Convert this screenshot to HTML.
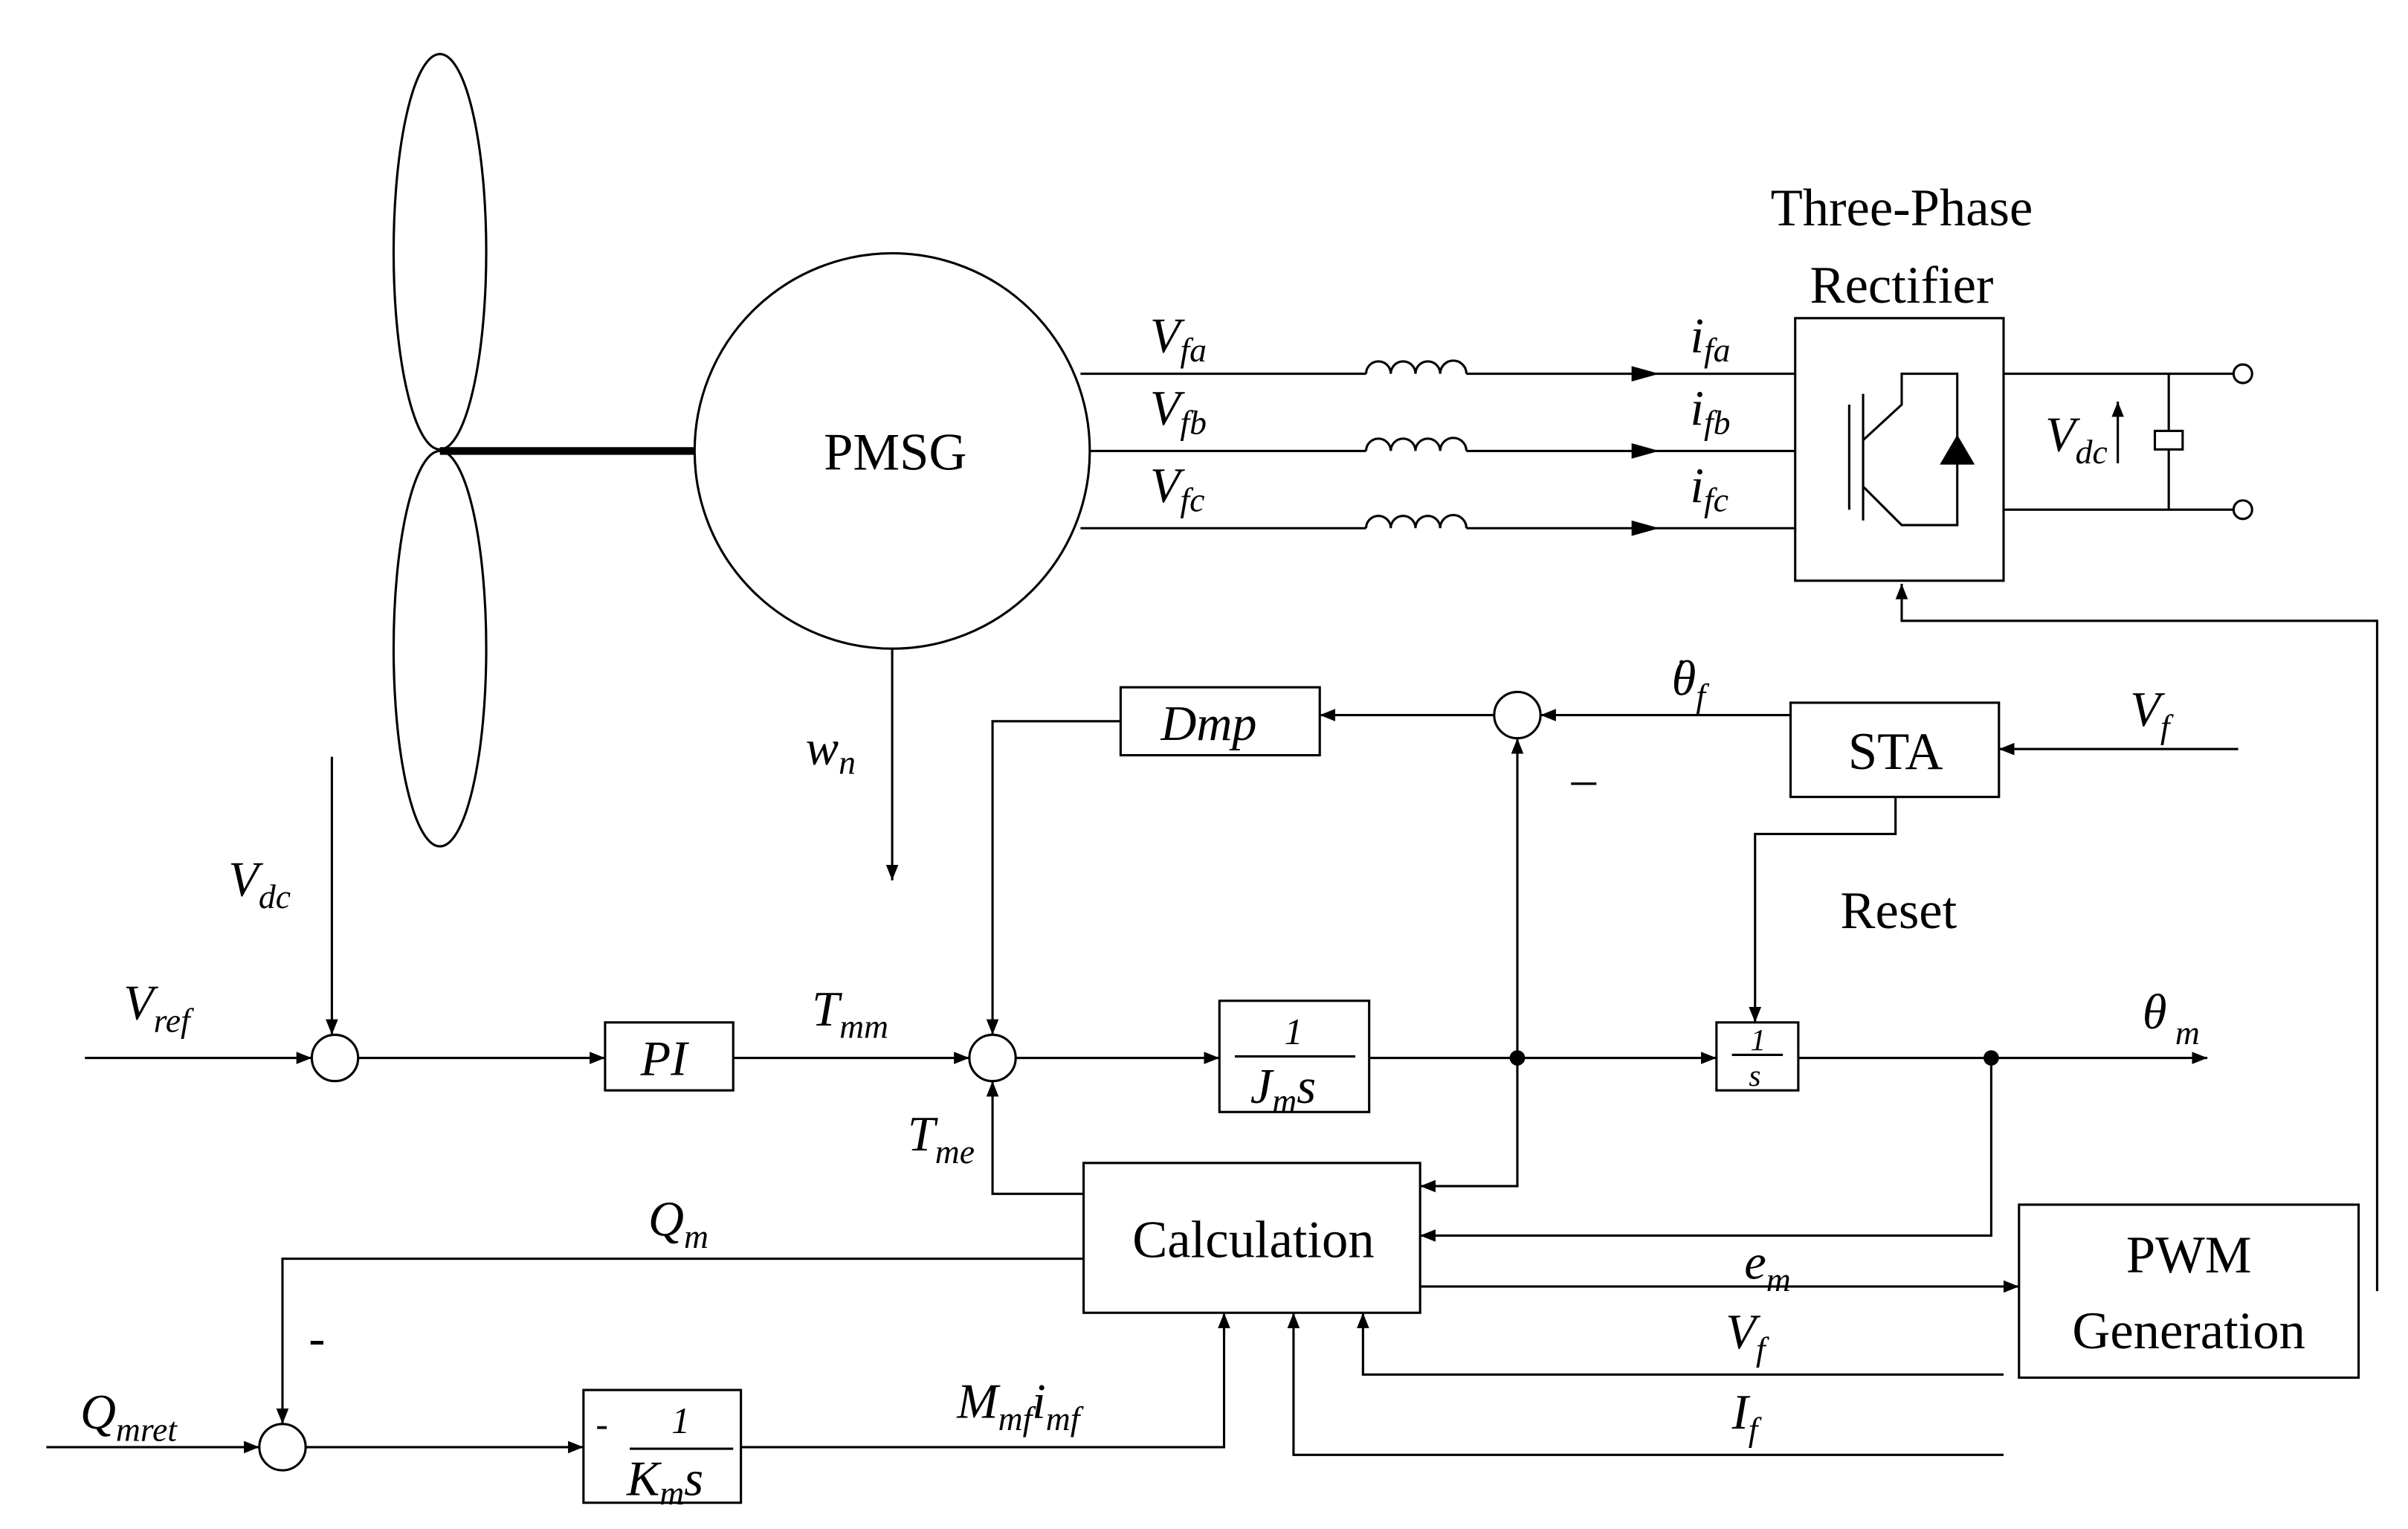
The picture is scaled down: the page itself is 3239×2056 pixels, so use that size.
<!DOCTYPE html>
<html><head><meta charset="utf-8"><style>html,body{margin:0;padding:0;background:#fff}svg{display:block}</style></head><body>
<svg width="3239" height="2056" viewBox="0 0 1560 990" preserveAspectRatio="none" xmlns="http://www.w3.org/2000/svg" font-family="Liberation Serif, serif">
<defs><marker id="a" markerWidth="10" markerHeight="8" refX="10" refY="4" orient="auto" markerUnits="userSpaceOnUse"><path d="M0,0 L10,4 L0,8 Z" fill="#000"/></marker>
<marker id="b" markerWidth="18" markerHeight="10" refX="18" refY="5" orient="auto" markerUnits="userSpaceOnUse"><path d="M0,0 L18,5 L0,10 Z" fill="#000"/></marker></defs>
<g fill="none" stroke="#000" stroke-width="1.5">
<ellipse cx="285" cy="163" rx="30" ry="128"/><ellipse cx="285" cy="420" rx="30" ry="128"/>
<line x1="285" y1="292" x2="450" y2="292" stroke-width="5"/>
<circle cx="578" cy="292" r="128"/>
<path d="M700 242H885M950 242H1075" marker-end="url(#b)"/><path d="M706 292H885M950 292H1075" marker-end="url(#b)"/><path d="M700 342H885M950 342H1075" marker-end="url(#b)"/>
<path d="M885 242a8 8 0 0 1 16 0a8 8 0 0 1 16 0a8 8 0 0 1 16 0a8 8 0 0 1 17 0"/>
<path d="M885 292a8 8 0 0 1 16 0a8 8 0 0 1 16 0a8 8 0 0 1 16 0a8 8 0 0 1 17 0"/>
<path d="M885 342a8 8 0 0 1 16 0a8 8 0 0 1 16 0a8 8 0 0 1 16 0a8 8 0 0 1 17 0"/>
<line x1="1075" y1="242" x2="1163" y2="242"/><line x1="1075" y1="292" x2="1163" y2="292"/><line x1="1075" y1="342" x2="1163" y2="342"/>
<rect x="1163" y="206" width="135" height="170"/>
<line x1="1198" y1="262" x2="1198" y2="330"/><line x1="1207" y1="255" x2="1207" y2="337"/>
<path d="M1207 285L1232 262V242H1268V283M1268 300V340H1232L1207 315"/>
<path d="M1258 300H1278"/><path d="M1268 283L1258 300H1278Z" fill="#000"/>
<path d="M1298 242H1447M1298 330H1447"/><circle cx="1453" cy="242" r="6"/><circle cx="1453" cy="330" r="6"/>
<path d="M1405 242V279M1405 291V330"/><rect x="1396" y="279" width="18" height="12"/>
<line x1="1372" y1="300" x2="1372" y2="260" marker-end="url(#a)"/>
<path d="M1540 836V402H1232V378" marker-end="url(#a)"/>
<line x1="578" y1="420" x2="578" y2="570" marker-end="url(#a)"/>
<line x1="215" y1="490" x2="215" y2="670" marker-end="url(#a)"/>
<circle cx="217" cy="685" r="15"/><line x1="55" y1="685" x2="202" y2="685" marker-end="url(#a)"/>
<line x1="232" y1="685" x2="392" y2="685" marker-end="url(#a)"/><rect x="392" y="662" width="83" height="44"/>
<line x1="475" y1="685" x2="628" y2="685" marker-end="url(#a)"/><circle cx="643" cy="685" r="15"/>
<line x1="658" y1="685" x2="790" y2="685" marker-end="url(#a)"/><rect x="790" y="648" width="97" height="72"/>
<line x1="887" y1="685" x2="1112" y2="685" marker-end="url(#a)"/><rect x="1112" y="662" width="53" height="44"/>
<line x1="1165" y1="685" x2="1430" y2="685" marker-end="url(#a)"/>
<line x1="983" y1="685" x2="983" y2="478" marker-end="url(#a)"/><circle cx="983" cy="463" r="15"/>
<rect x="1160" y="455" width="135" height="61"/><line x1="1160" y1="463" x2="998" y2="463" marker-end="url(#a)"/>
<line x1="1450" y1="485" x2="1295" y2="485" marker-end="url(#a)"/>
<line x1="968" y1="463" x2="855" y2="463" marker-end="url(#a)"/><rect x="726" y="445" width="129" height="44"/>
<path d="M726 467H643V670" marker-end="url(#a)"/>
<path d="M1228 516V540H1137V662" marker-end="url(#a)"/>
<path d="M702 773H643V700" marker-end="url(#a)"/>
<rect x="702" y="753" width="218" height="97"/>
<path d="M983 685V768H920" marker-end="url(#a)"/><path d="M1290 685V800H920" marker-end="url(#a)"/>
<line x1="920" y1="833" x2="1308" y2="833" marker-end="url(#a)"/><rect x="1308" y="780" width="220" height="112"/>
<path d="M1298 890H883V850" marker-end="url(#a)"/><path d="M1298 942H838V850" marker-end="url(#a)"/>
<path d="M702 815H183V922" marker-end="url(#a)"/><circle cx="183" cy="937" r="15"/>
<line x1="30" y1="937" x2="168" y2="937" marker-end="url(#a)"/><line x1="198" y1="937" x2="378" y2="937" marker-end="url(#a)"/>
<rect x="378" y="900" width="102" height="73"/><path d="M480 937H793V850" marker-end="url(#a)"/>
<line x1="800" y1="684" x2="878" y2="684"/><line x1="1122" y1="683" x2="1155" y2="683"/><line x1="408" y1="938" x2="475" y2="938"/>
</g>
<circle cx="983" cy="685" r="5"/><circle cx="1290" cy="685" r="5"/>
<g font-size="34" text-anchor="middle"><text x="1232" y="146">Three-Phase</text><text x="1232" y="196">Rectifier</text><text x="580" y="304">PMSG</text><text x="1228" y="498">STA</text><text x="1230" y="601">Reset</text><text x="812" y="814">Calculation</text><text x="1418" y="824">PWM</text><text x="1418" y="873">Generation</text></g>
<g font-size="32" font-style="italic">
<text x="745" y="228">V<tspan font-size="22" dy="6">fa</tspan></text><text x="745" y="275">V<tspan font-size="22" dy="6">fb</tspan></text><text x="745" y="325">V<tspan font-size="22" dy="6">fc</tspan></text>
<text x="1095" y="228">i<tspan font-size="22" dy="6">fa</tspan></text><text x="1095" y="275">i<tspan font-size="22" dy="6">fb</tspan></text><text x="1095" y="325">i<tspan font-size="22" dy="6">fc</tspan></text>
<text x="1325" y="292">V<tspan font-size="22" dy="8">dc</tspan></text>
<text x="522" y="495">w<tspan font-size="22" dy="6">n</tspan></text>
<text x="148" y="580">V<tspan font-size="22" dy="8">dc</tspan></text>
<text x="80" y="660">V<tspan font-size="22" dy="8">ref</tspan></text>
<text x="415" y="696">PI</text>
<text x="526" y="664">T<tspan font-size="22" dy="8">mm</tspan></text>
<text x="752" y="479">Dmp</text>
<text x="1083" y="450">θ<tspan font-size="22" dy="8">f</tspan></text><text x="1087" y="430" font-size="24">.</text>
<text x="1018" y="515" font-style="normal">–</text>
<text x="1380" y="470">V<tspan font-size="22" dy="8">f</tspan></text>
<text x="1388" y="666">θ<tspan font-size="22" dy="10"> m</tspan></text>
<text x="588" y="745">T<tspan font-size="22" dy="8">me</tspan></text>
<text x="420" y="800">Q<tspan font-size="22" dy="8">m</tspan></text>
<text x="1130" y="828">e<tspan font-size="22" dy="8">m</tspan></text>
<text x="1118" y="873">V<tspan font-size="22" dy="8">f</tspan></text>
<text x="1122" y="925">I<tspan font-size="22" dy="8">f</tspan></text>
<text x="52" y="925">Q<tspan font-size="22" dy="8">mret</tspan></text>
<text x="200" y="877" font-style="normal">-</text>
<text x="620" y="918">M<tspan font-size="22" dy="8">mf</tspan><tspan dy="-8">i</tspan><tspan font-size="22" dy="8">mf</tspan></text>
<text x="832" y="676" font-size="24">1</text>
<text x="810" y="714">J<tspan font-size="22" dy="6">m</tspan><tspan dy="-6">s</tspan></text>
<text x="1134" y="680" font-size="20">1</text><text x="1133" y="703" font-size="20">s</text>
<text x="386" y="930" font-style="normal" font-size="24">-</text>
<text x="435" y="928" font-size="24">1</text>
<text x="406" y="968">K<tspan font-size="22" dy="6">m</tspan><tspan dy="-6">s</tspan></text>
</g>
</svg>
</body></html>
